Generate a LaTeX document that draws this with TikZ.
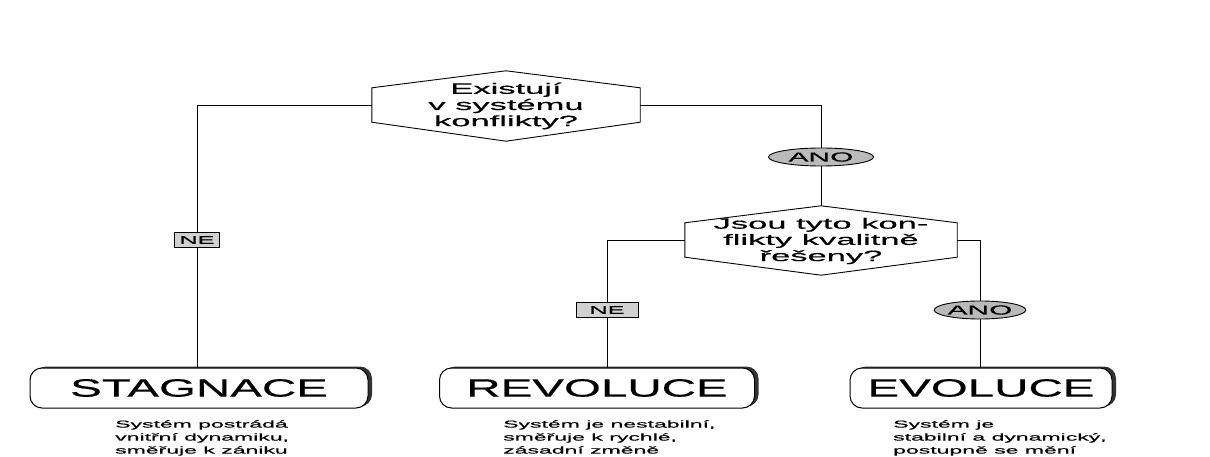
\documentclass[tikz,border=0pt]{standalone}
\usepackage{fontspec}
\setmainfont[FakeStretch=2.3,FakeBold=0.5]{Liberation Sans}
\newfontfamily\resultfont[FakeStretch=1.9,FakeBold=0.5]{Liberation Sans}
\usetikzlibrary{shapes.geometric,shadows,calc}
\tikzset{
    qbox/.style={rectangle,inner sep=0pt,minimum width=#1,minimum height=34pt},
    qtext/.style={align=center,inner sep=0pt,font=\fontsize{15}{16.2}\selectfont},
    qline/.style={draw=black,line width=0.9pt,line join=miter},
    yes/.style={ellipse,draw,fill=black!27,inner sep=0pt,minimum width=#1,minimum height=18pt,line width=0.9pt,font=\fontsize{13}{14}\selectfont},
    no/.style={rectangle,draw,fill=black!18,inner sep=0pt,minimum width=#1,minimum height=15pt,line width=0.9pt,font=\fontsize{11}{12}\selectfont},
    result/.style={rectangle,rounded corners=12pt,draw,fill=white,minimum width=#1,minimum height=40pt,line width=1pt,
        general shadow={fill=black!80,shadow xshift=4pt,shadow yshift=1.5pt},font=\resultfont\fontsize{25}{26}\selectfont},
    note/.style={anchor=north west,align=left,inner sep=0pt,font=\fontsize{10}{13}\selectfont},
    edge/.style={-,draw=black,line width=0.9pt},
}

\begin{document}
\begin{tikzpicture}[x=1pt,y=1pt]
    \path[use as bounding box] (0,0) rectangle (1210,-457);
    % questions
    \node[qbox=268pt] (q1) at (506,-105) {};
    \node[qtext] (q1t) at ($(q1)+(0,-1)$) {Existují\\v systému\\konflikty?};
    \draw[qline] (q1.north west) -- ($(q1.north)+(0,17)$) -- (q1.north east) -- (q1.south east)
        -- ($(q1.south)+(0,-19)$) -- (q1.south west) -- cycle;
    \node[qbox=272pt] (q2) at (821,-240) {};
    \node[qtext] (q2t) at ($(q2)+(0,-1)$) {Jsou tyto kon-\\flikty kvalitně\\řešeny?};
    \draw[qline] (q2.north west) -- ($(q2.north)+(0,17)$) -- (q2.north east) -- (q2.south east)
        -- ($(q2.south)+(0,-18)$) -- (q2.south west) -- cycle;
    % answers
    \node[no=45pt] (ne1) at (197,-240) {NE};
    \node[yes=105pt] (ano1) at (821,-157) {ANO};
    \node[no=62pt] (ne2) at (607,-310) {NE};
    \node[yes=70pt] (ano2) at (980,-310) {ANO};
    % results
    \node[result=338pt] (stag) at (199,-388) {STAGNACE};
    \node[result=315pt] (rev) at (597,-388) {REVOLUCE};
    \node[result=262pt] (evo) at (981,-388) {EVOLUCE};
    \node[note] (dstag) at (115,-420) {Systém postrádá\\vnitřní dynamiku,\\směřuje k zániku};
    \node[note] (drev) at (503,-420) {Systém je nestabilní,\\směřuje k rychlé,\\zásadní změně};
    \node[note] (devo) at (893,-420) {Systém je\\stabilní a dynamický,\\postupně se mění};
    % connectors
    \draw[edge] (q1.west) -| (ne1.north);
    \draw[edge] (ne1.south) -- (ne1.south |- stag.north);
    \draw[edge] (q1.east) -| (ano1.north);
    \draw[edge] (ano1.south) -- ($(q2.north)+(0,17)$);
    \draw[edge] (q2.west) -| (ne2.north);
    \draw[edge] (ne2.south) -- (ne2.south |- rev.north);
    \draw[edge] (q2.east) -| (ano2.north);
    \draw[edge] (ano2.south) -- (ano2.south |- evo.north);
\end{tikzpicture}
\end{document}
